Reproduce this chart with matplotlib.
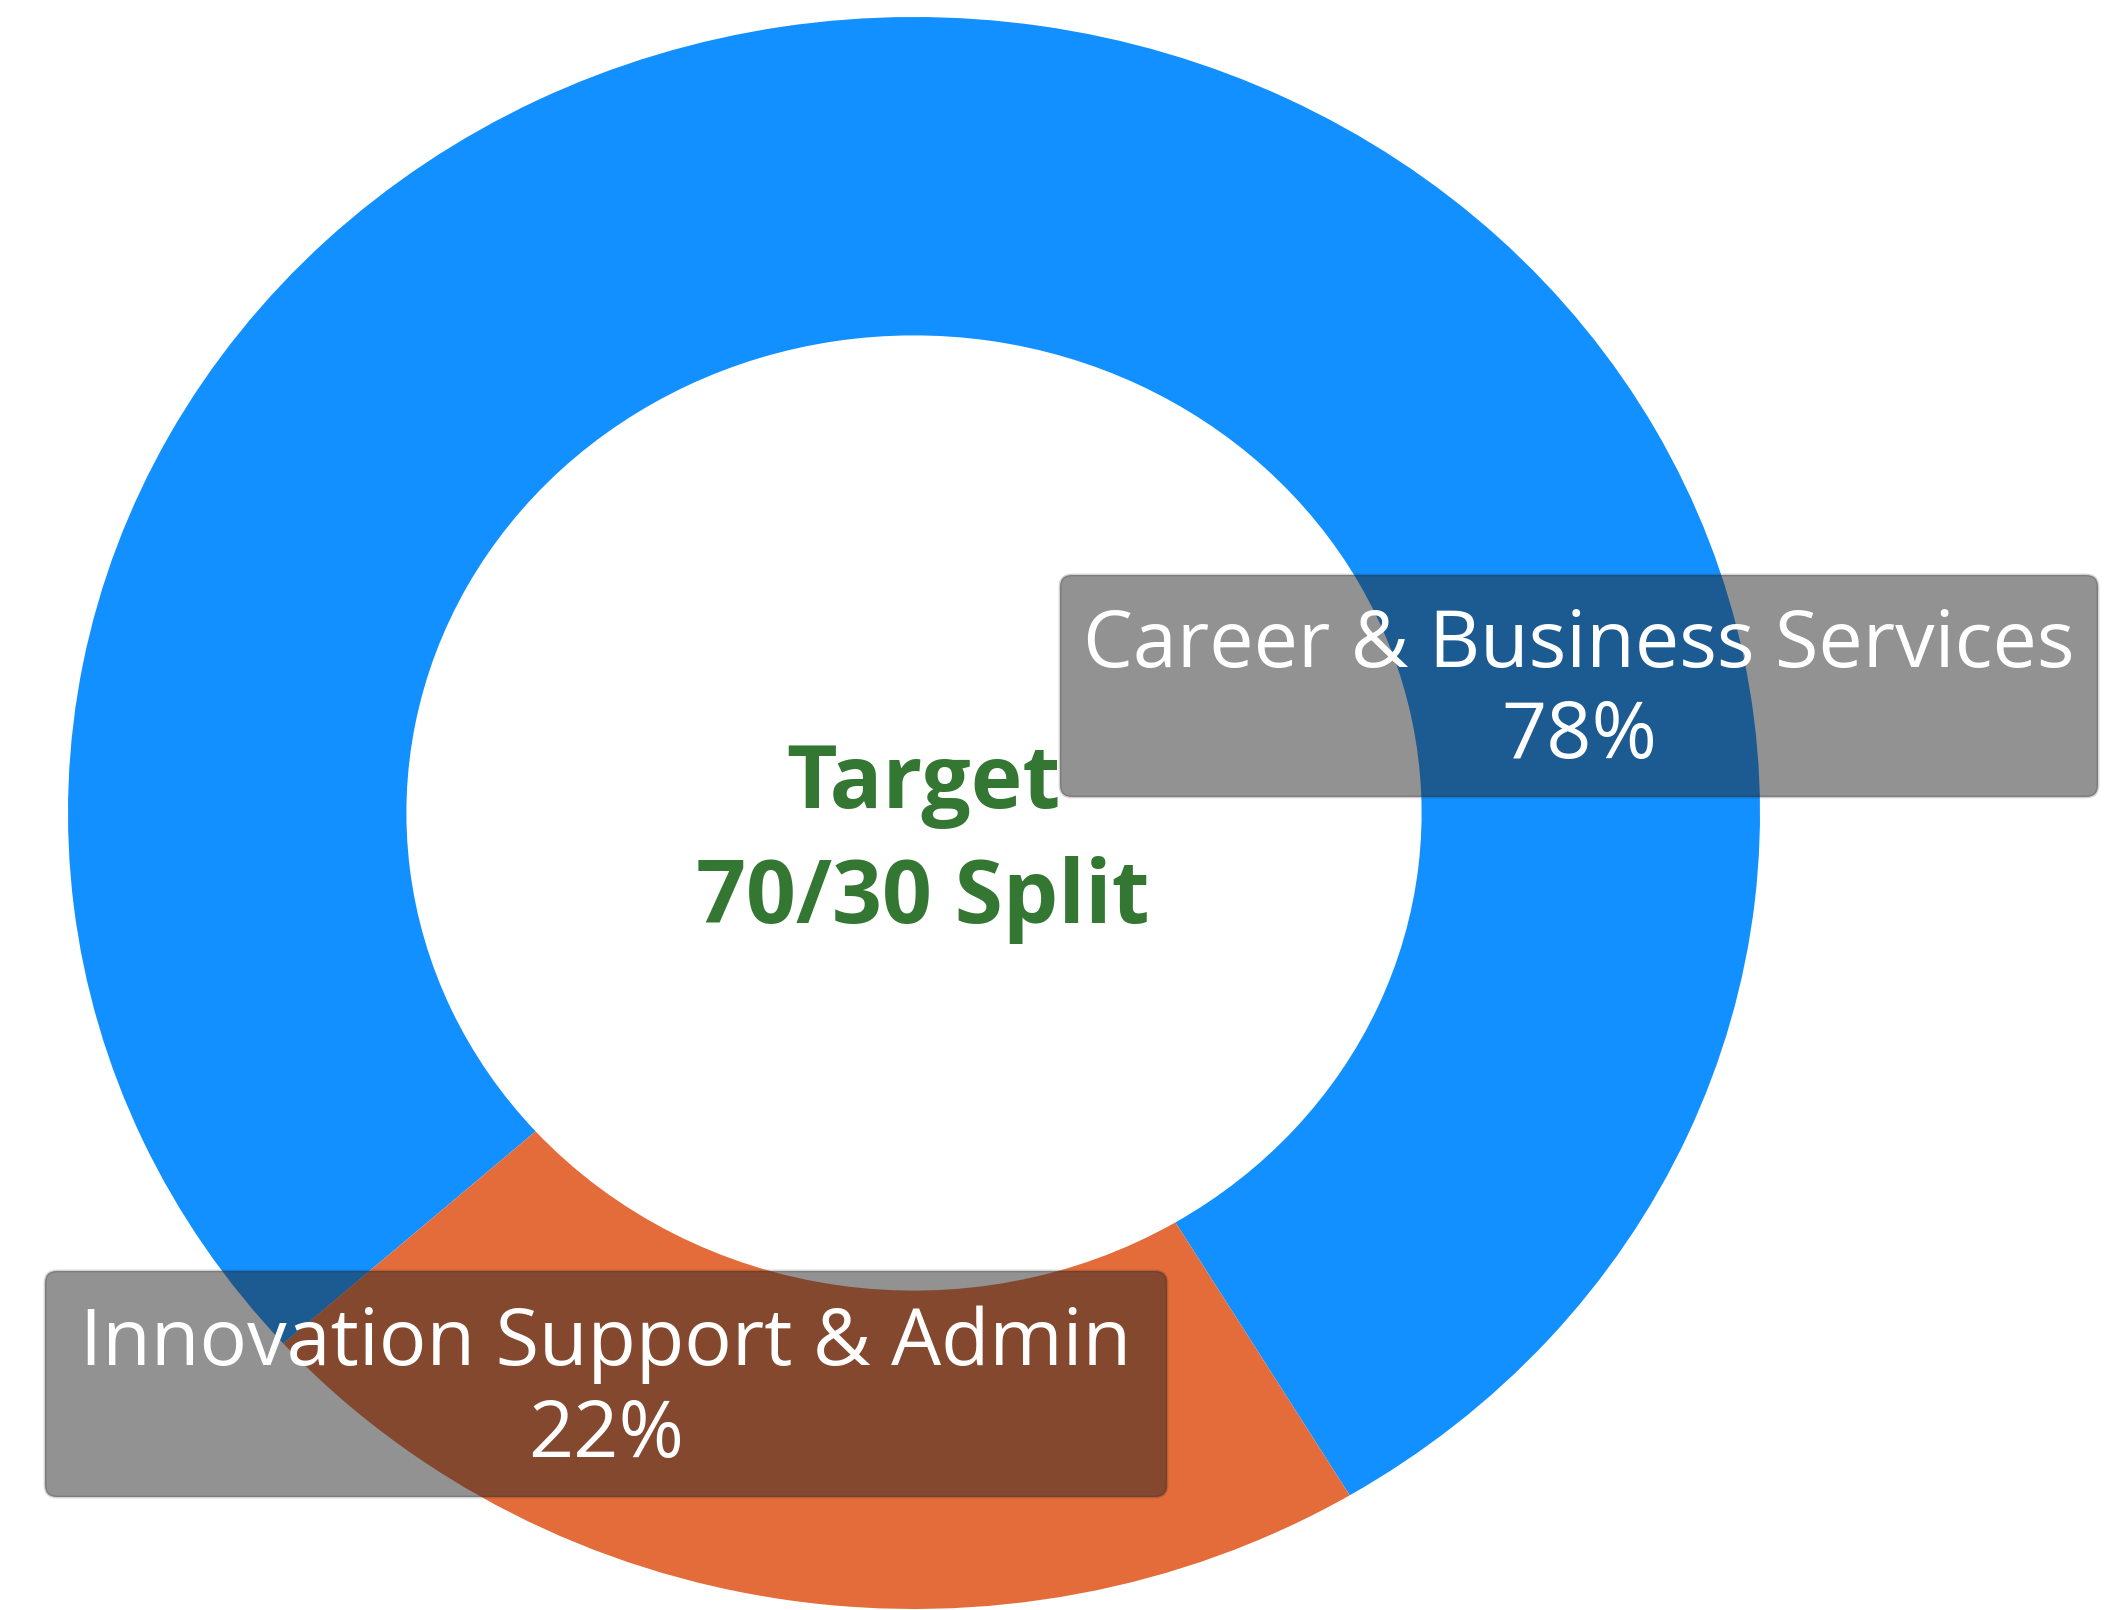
import matplotlib
matplotlib.use("Agg")
import matplotlib.pyplot as plt
from matplotlib.patches import FancyBboxPatch

# data
categories = ["Career & Business Services", "Innovation Support & Admin"]
shares = [78, 22]
share_labels = ["78%", "22%"]
colors = ["#1290FF", "#E46C3A"]
center_lines = ["Target", "70/30 Split"]

W, H = 2120, 1610
fig = plt.figure(figsize=(W / 100, H / 100), dpi=100)

# donut axes: slightly wider than tall, like the reference
cx, cy, rx, ry = 914, 813, 846, 796
ax = fig.add_axes([(cx - rx) / W, (H - cy - ry) / H, 2 * rx / W, 2 * ry / H])
ax.pie(shares, colors=colors, startangle=-59, counterclock=True, radius=1,
       wedgeprops=dict(width=0.4, linewidth=0))
ax.set_aspect("auto")
ax.set_xlim(-1, 1)
ax.set_ylim(-1, 1)
ax.axis("off")

# overlay in pixel coords for labels
ov = fig.add_axes([0, 0, 1, 1])
ov.set_xlim(0, W)
ov.set_ylim(H, 0)
ov.axis("off")
ov.patch.set_alpha(0)

font = "Open Sans"

# center text
ov.text(923, 808, center_lines[0], ha="center", va="baseline", fontsize=63,
        fontweight="bold", color="#337733", family=font)
ov.text(923, 923, center_lines[1], ha="center", va="baseline", fontsize=63,
        fontweight="bold", color="#337733", family=font)

# label boxes: (left, top, right, bottom), baselines
boxes = [(1060, 575, 2098, 797, 667, 758), (45, 1271, 1167, 1497, 1365, 1457)]
for (l, t, r, b, b1, b2), name, pct in zip(boxes, categories, share_labels):
    box = FancyBboxPatch((l + 12, t + 12), (r - l) - 24, (b - t) - 24,
                         boxstyle="round,pad=12",
                         facecolor=(0.15, 0.15, 0.15, 0.5),
                         edgecolor=(0.15, 0.15, 0.15, 0.2), linewidth=2)
    ov.add_patch(box)
    xm = (l + r) / 2
    ov.text(xm, b1, name, ha="center", va="baseline", fontsize=57,
            color="white", family=font)
    ov.text(xm, b2, pct, ha="center", va="baseline", fontsize=57,
            color="white", family=font)

fig.savefig("out.png", dpi=100)
